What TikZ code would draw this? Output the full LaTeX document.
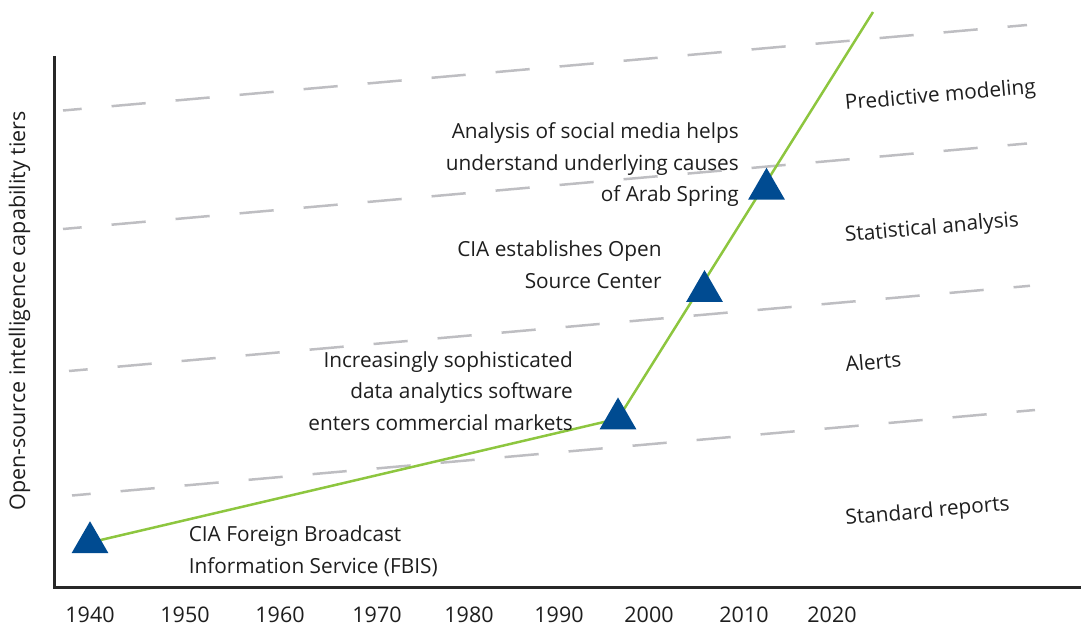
\documentclass[tikz,border=0pt]{standalone}
\usepackage{fontspec}
\setmainfont{Open Sans}
\usetikzlibrary{shapes.geometric}
\definecolor{eventblue}{RGB}{0,75,145}
\definecolor{trendgreen}{RGB}{141,198,63}
\definecolor{tiergray}{RGB}{190,190,194}
\definecolor{axisgray}{RGB}{40,40,40}
\definecolor{textgray}{RGB}{30,30,30}
\begin{document}
\begin{tikzpicture}[x=1pt,y=-1pt,
  event/.style={regular polygon, regular polygon sides=3, fill=eventblue,
    minimum size=42.5pt, inner sep=0pt, outer sep=0pt},
  tier/.style={draw=tiergray, line width=2.5pt,
    dash pattern=on 34.25pt off 30pt, dash phase=15.5pt},
  trend/.style={draw=trendgreen, line width=2.5pt},
  axis/.style={draw=axisgray, line width=3pt},
  lbl/.style={font=\fontsize{20.8}{31.5}\selectfont, text=textgray, inner sep=0pt},
  tierlbl/.style={lbl, anchor=base west, rotate=5.07},
  year/.style={lbl, font=\fontsize{21.5}{26}\selectfont, anchor=base}]
\useasboundingbox (0,0) rectangle (1081,631);

% axes
\coordinate (ytop) at (54,56);
\coordinate (origin) at (54,587);
\coordinate (xend) at (1081,587);
\draw[axis] (ytop) -- (origin) -- (xend);

% tier boundaries
\coordinate (t1w) at (63,110.5);  \coordinate (t1e) at (1027,25);
\coordinate (t2w) at (63,229);    \coordinate (t2e) at (1027,143.5);
\coordinate (t3w) at (69,371);    \coordinate (t3e) at (1030,285.8);
\coordinate (t4w) at (72,495.5);  \coordinate (t4e) at (1035,410);
\draw[tier] (t1w) -- (t1e);
\draw[tier] (t2w) -- (t2e);
\draw[tier] (t3w) -- (t3e);
\draw[tier] (t4w) -- (t4e);

% trend
\coordinate (p1940) at (90,542.5);
\coordinate (p1997) at (618,418.7);
\coordinate (p2006) at (704.5,291.3);
\coordinate (p2011) at (766.5,189);
\coordinate (trendend) at (873,12);
\draw[trend] (p1940) -- (p1997) -- (trendend);

\node[event] (fbis) at (p1940) {};
\node[event] (markets) at (p1997) {};
\node[event] (osc) at (p2006) {};
\node[event] (arab) at (p2011) {};

% event texts (anchored at the last line)
\node[lbl, anchor=base west, align=left] (fbistxt) at (188.6,573.3)
  {CIA Foreign Broadcast\\Information Service (FBIS)};
\node[lbl, anchor=base east, align=right] (marketstxt) at (573,430)
  {Increasingly sophisticated\\data analytics software\\enters commercial markets};
\node[lbl, anchor=base east, align=right] (osctxt) at (661.8,288.3)
  {CIA establishes Open\\Source Center};
\node[lbl, anchor=base east, align=right] (arabtxt) at (739,201.7)
  {Analysis of social media helps\\understand underlying causes\\of Arab Spring};

% tier names
\node[tierlbl] (predictive) at (845.5,110) {Predictive modeling};
\node[tierlbl] (statistical) at (845.5,241.7) {Statistical analysis};
\node[tierlbl] (alerts) at (846,371.7) {Alerts};
\node[tierlbl] (standard) at (846,525) {Standard reports};

% axis labels
\node[lbl, font=\fontsize{21.5}{26}\selectfont, rotate=90, anchor=base] (ylabel) at (25,311)
  {Open-source intelligence capability tiers};
\foreach \yr/\x in {1940/90,1950/185,1960/280,1970/377,1980/469,1990/559,2000/649,2010/744,2020/832}
  \node[year] (y\yr) at (\x,622) {\yr};
\end{tikzpicture}
\end{document}
